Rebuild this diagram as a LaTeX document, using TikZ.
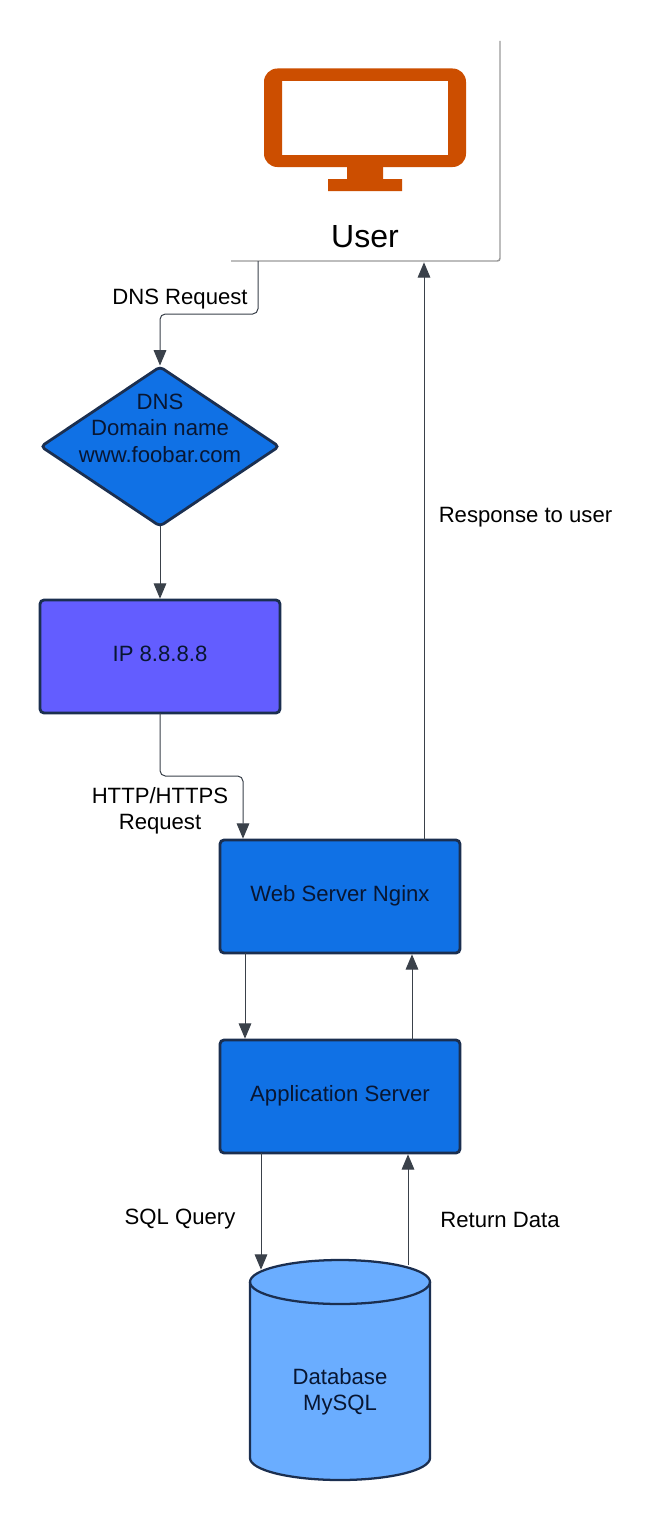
\documentclass[tikz,border=0pt]{standalone}
\usepackage{fontspec}
\setmainfont{Liberation Sans}
\usetikzlibrary{arrows.meta,calc,shapes.geometric}
\definecolor{edgeblue}{HTML}{1B2F50}
\definecolor{boxblue}{HTML}{1071E5}
\definecolor{ipviolet}{HTML}{635DFF}
\definecolor{dbblue}{HTML}{6AADFF}
\definecolor{wire}{HTML}{3A414A}
\definecolor{monitor}{HTML}{CC4E00}
\definecolor{frameline}{HTML}{9A9A9A}
\definecolor{inktext}{HTML}{081632}
\tikzset{
  x=0.75pt,y=-0.75pt,
  every node/.style={font=\fontsize{16.6pt}{19.8pt}\selectfont,align=center,inner sep=0pt,outer sep=0pt},
  procbox/.style={draw=edgeblue,line width=2.1pt,rounded corners=3pt,minimum width=180pt,minimum height=84.75pt,text=inktext},
  wirearrow/.style={draw=wire,line width=0.75pt,rounded corners=4pt,-{Triangle[length=11.5pt,width=9.5pt,color=wire]},shorten >=1pt},
  caption/.style={text=black},
}
\begin{document}
\begin{tikzpicture}
\useasboundingbox[fill=white] (0,0) rectangle (671,1520);

% User card
\node[minimum width=201.75pt,minimum height=165pt] (user) at (365.5,151) {};
\draw[frameline,line width=1.1pt,rounded corners=2pt] (user.north east) -- (user.south east) -- (user.south west);
\fill[monitor,even odd rule,rounded corners=10pt] (264,68.5) rectangle (466,167)
  [sharp corners] (282,81) rectangle (448,155);
\fill[monitor] (347,167) rectangle (383,179) (328,179) rectangle (402,191);
\node[font=\fontsize{24pt}{28pt}\selectfont,text=black] (usertext) at (365,237) {User};

% DNS
\node[shape=diamond,aspect=1.49,minimum width=178.5pt,minimum height=119.5pt,draw=edgeblue,fill=boxblue,line width=2.1pt,rounded corners=3pt] (dns) at (160,446.5) {};
\node[text=inktext] (dnstext) at (160,428) {DNS\\Domain name\\www.foobar.com};

% Boxes
\node[procbox,fill=ipviolet] (ip) at (160,656.5) {};
\node[text=inktext] (iptext) at (160,654) {IP 8.8.8.8};
\node[procbox,fill=boxblue] (web) at (340,896.5) {};
\node[text=inktext] (webtext) at (340,896) {Web Server Nginx};
\node[procbox,fill=boxblue] (app) at (340,1096.5) {};
\node[text=inktext] (apptext) at (340,1096) {Application Server};

% Database
\node[minimum width=135pt,minimum height=165pt] (db) at (340,1370) {};
\draw[draw=edgeblue,fill=dbblue,line width=1.7pt]
  (250,1282) arc[start angle=180,end angle=360,x radius=90,y radius=22]
  -- (430,1458) arc[start angle=0,end angle=180,x radius=90,y radius=22] -- cycle;
\draw[draw=edgeblue,line width=1.7pt] (250,1282) arc[start angle=180,end angle=0,x radius=90,y radius=22];
\node[text=inktext] (dbtext) at (340,1392) {Database\\MySQL};

% Connectors
\draw[wirearrow] ($(user.south)+(-107.5,0)$) |- (160,314) -- (dns.north);
\draw[wirearrow] (dns.south) -- (ip.north);
\draw[wirearrow] (ip.south) |- (243,776) -- ($(web.north)+(-97,0)$);
\draw[wirearrow] ($(web.south)+(-95,0)$) -- ($(app.north)+(-95,0)$);
\draw[wirearrow] ($(app.north)+(72,0)$) -- ($(web.south)+(72,0)$);
\draw[wirearrow] ($(app.south)+(-79,0)$) -- ($(db.north)+(-79,11)$);
\draw[wirearrow] ($(db.north)+(68,5)$) -- ($(app.south)+(68,0)$);
\draw[wirearrow] ($(web.north)+(84,0)$) -- ($(user.south)+(58.5,0)$);

% Labels
\node[caption] (l1) at (180,299) {DNS Request};
\node[caption] (l2) at (160,811) {HTTP/HTTPS\\Request};
\node[caption] (l3) at (525.5,517) {Response to user};
\node[caption] (l4) at (180,1219) {SQL Query};
\node[caption] (l5) at (500,1220) {Return Data};
\end{tikzpicture}
\end{document}
